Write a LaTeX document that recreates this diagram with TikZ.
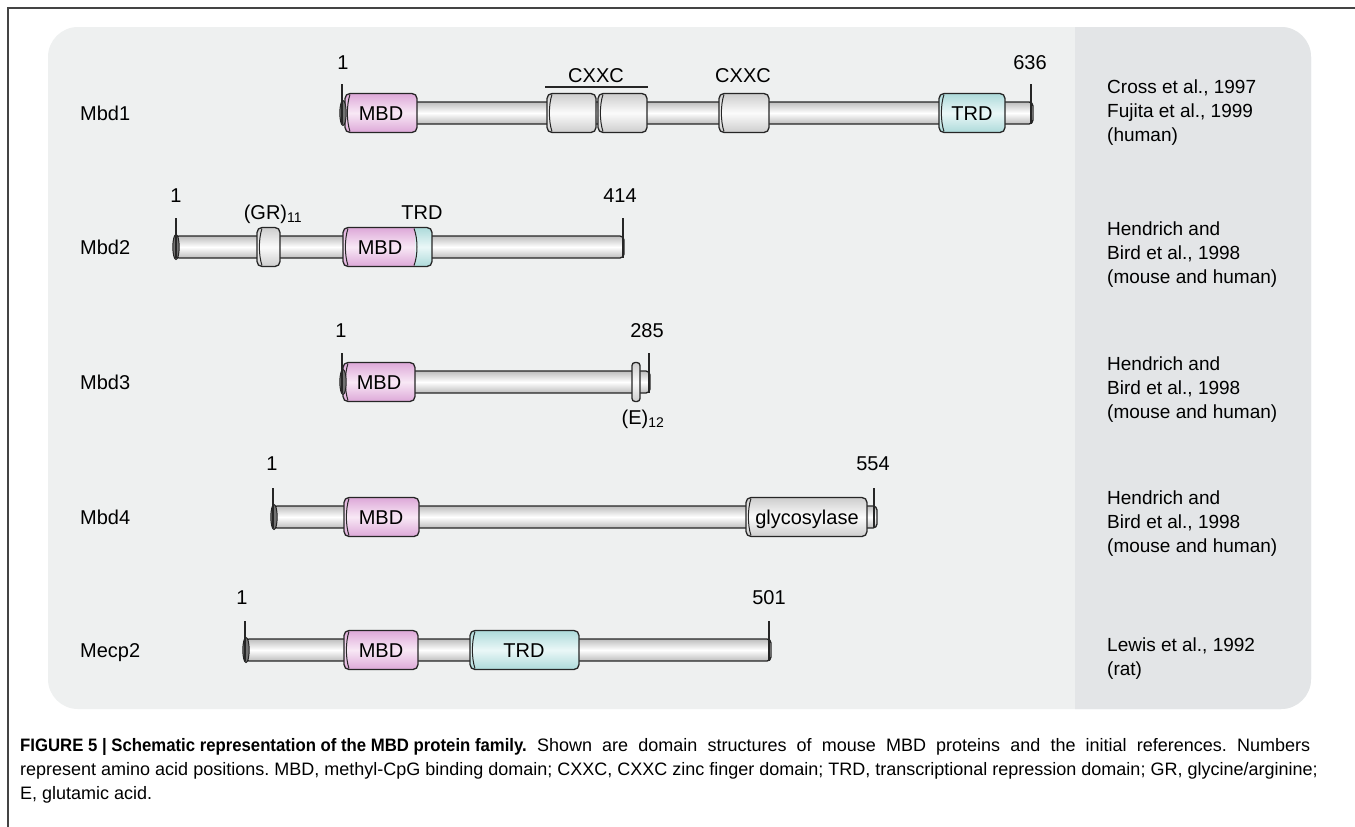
\documentclass[tikz,border=0pt]{standalone}
\usepackage{fontspec}
\setmainfont{Liberation Sans}
\frenchspacing
\definecolor{panel}{HTML}{EEF0F0}
\definecolor{refcol}{HTML}{E3E5E7}
\definecolor{pinkD}{HTML}{DDA8D8}
\definecolor{pinkL}{HTML}{F8E8F5}
\definecolor{cyanD}{HTML}{ADDADA}
\definecolor{cyanL}{HTML}{EAF7F7}
\definecolor{grayD}{HTML}{CDCDCD}
\definecolor{grayL}{HTML}{FBFBFB}
\definecolor{rodD}{HTML}{BDBDBD}
\definecolor{framecol}{HTML}{444444}
\tikzset{
  outl/.style={draw=black!85, line width=1.3pt},
  txt/.style={inner sep=0pt, anchor=base, font=\fontsize{20}{24}\selectfont},
  ltxt/.style={txt, anchor=base west},
  reftxt/.style={inner sep=0pt, anchor=west, align=left, font=\fontsize{19}{24}\selectfont},
  captxt/.style={inner sep=0pt, anchor=base west, font=\fontsize{18}{24}\selectfont},
  tickline/.style={draw=black!85, line width=1.5pt},
  pinkfill/.style={top color=pinkD, bottom color=pinkD, middle color=pinkL},
  cyanfill/.style={top color=cyanD, bottom color=cyanD, middle color=cyanL},
  grayfill/.style={top color=grayD, bottom color=grayD, middle color=grayL},
  rodfill/.style={top color=rodD, bottom color=rodD, middle color=white}
}
% #1 y, #2 x1, #3 x2
\newcommand\protrod[3]{%
  \shade[rodfill, rounded corners=4pt] (#2,#1-11) rectangle (#3,#1+11);
  \draw[outl, rounded corners=4pt] (#2,#1-11) rectangle (#3,#1+11);
}
% #1 y, #2 x1, #3 x2, #4 fill style
\newcommand\protdom[4]{%
  \shade[#4, rounded corners=5pt] (#2,#1-19.5) rectangle (#3,#1+19.5);
  \draw[outl, rounded corners=5pt] (#2,#1-19.5) rectangle (#3,#1+19.5);
  \draw[outl, line width=1pt] (#2+5,#1-18.5) .. controls (#2+1.5,#1-8) and (#2+1.5,#1+8) .. (#2+5,#1+18.5);
}
\newcommand\protcap[2]{%
  \filldraw[fill=black!55, draw=black!85, line width=1pt] (#2,#1) ellipse [x radius=3.2pt, y radius=12.5pt];
}
\newcommand\prottick[2]{%
  \draw[tickline] (#2,#1-29) -- (#2,#1+11);
}
\begin{document}
\begin{tikzpicture}[x=1pt, y=-1pt]
\useasboundingbox (0,0) rectangle (1355,827);
\fill[white] (0,0) rectangle (1355,827);
% frame
\draw[framecol, line width=1.5pt] (8,830) -- (8,8) -- (1358,8);
% panel
\fill[panel, rounded corners=30pt] (48,27) rectangle (1311,709);
\begin{scope}
  \clip[rounded corners=30pt] (48,27) rectangle (1311,709);
  \fill[refcol] (1075,0) rectangle (1400,800);
\end{scope}

% ---------- Mbd1 (y=113)
\node[ltxt] (n1) at (80,120) {Mbd1};
\protrod{113}{342}{1033}
\protdom{113}{345}{417}{pinkfill}
\protdom{113}{547}{596}{grayfill}
\protdom{113}{598}{647}{grayfill}
\protdom{113}{719}{769}{grayfill}
\protdom{113}{939}{1005}{cyanfill}
\protcap{113}{343}
\prottick{113}{342}
\prottick{113}{1031}
\node[txt] (m1mbd) at (381,120) {MBD};
\node[txt] (m1trd) at (972,120) {TRD};
\node[txt] (m1c1) at (596,82) {CXXC};
\node[txt] (m1c2) at (743,82) {CXXC};
\draw[outl] (545,87) -- (648,87);
\node[txt] (m1s) at (343,69) {1};
\node[txt] (m1e) at (1030,69) {636};
\node[reftxt] (r1) at (1107,113) {Cross et al., 1997\\Fujita et al., 1999\\(human)};

% ---------- Mbd2 (y=247)
\node[ltxt] (n2) at (80,254) {Mbd2};
\protrod{247}{175}{624}
\protdom{247}{257}{280}{grayfill}
\shade[pinkfill, rounded corners=5pt] (343,227.5) rectangle (432,266.5);
\begin{scope}
  \clip (415,200) rectangle (440,290);
  \shade[cyanfill, rounded corners=5pt] (343,227.5) rectangle (432,266.5);
\end{scope}
\draw[outl, rounded corners=5pt] (343,227.5) rectangle (432,266.5);
\draw[outl, line width=1pt] (348,228.5) .. controls (344.5,239) and (344.5,255) .. (348,265.5);
\draw[outl, line width=1pt] (414,228.5) .. controls (418,239) and (418,255) .. (414,265.5);
\protcap{247}{176}
\prottick{247}{176}
\prottick{247}{623}
\node[txt] (m2mbd) at (380,254) {MBD};
\node[txt] (m2trd) at (422,219) {TRD};
\node[txt] (m2gr) at (273,219) {(GR)\textsubscript{11}};
\node[txt] (m2s) at (176,202) {1};
\node[txt] (m2e) at (620,202) {414};
\node[reftxt] (r2) at (1107,255) {Hendrich and\\Bird et al., 1998\\(mouse and human)};

% ---------- Mbd3 (y=382)
\node[ltxt] (n3) at (80,389) {Mbd3};
\protrod{382}{342}{650}
\protdom{382}{343}{415}{pinkfill}
\shade[grayfill, rounded corners=3pt] (632,362.5) rectangle (640,401.5);
\draw[outl, rounded corners=3pt] (632,362.5) rectangle (640,401.5);
\protcap{382}{343}
\prottick{382}{342}
\prottick{382}{649}
\node[txt] (m3mbd) at (379,389) {MBD};
\node[txt] (m3s) at (341,337) {1};
\node[txt] (m3e) at (647,337) {285};
\node[txt] (m3el) at (643,424) {(E)\textsubscript{12}};
\node[reftxt] (r3) at (1107,390) {Hendrich and\\Bird et al., 1998\\(mouse and human)};

% ---------- Mbd4 (y=517)
\node[ltxt] (n4) at (80,524) {Mbd4};
\protrod{517}{273}{877}
\protdom{517}{344}{419}{pinkfill}
\protdom{517}{746}{867}{grayfill}
\protcap{517}{274}
\prottick{517}{273}
\prottick{517}{874}
\node[txt] (m4mbd) at (381,524) {MBD};
\node[txt] (m4gly) at (807,524) {glycosylase};
\node[txt] (m4s) at (272,470) {1};
\node[txt] (m4e) at (873,470) {554};
\node[reftxt] (r4) at (1107,524) {Hendrich and\\Bird et al., 1998\\(mouse and human)};

% ---------- Mecp2 (y=650)
\node[ltxt] (n5) at (80,657) {Mecp2};
\protrod{650}{245}{771}
\protdom{650}{344}{418}{pinkfill}
\protdom{650}{470}{579}{cyanfill}
\protcap{650}{246}
\prottick{650}{245}
\prottick{650}{769}
\node[txt] (m5mbd) at (381,657) {MBD};
\node[txt] (m5trd) at (524,657) {TRD};
\node[txt] (m5s) at (242,604) {1};
\node[txt] (m5e) at (769,604) {501};
\node[reftxt] (r5) at (1107,659) {Lewis et al., 1992\\(rat)};

% ---------- caption
\node[captxt] (c1) at (20,751) {\hbox to 1290pt{\scalebox{0.93}[1]{\textbf{FIGURE 5 | Schematic representation of the MBD protein family.}} Shown are domain structures of mouse MBD proteins and the initial references. Numbers}};
\node[captxt] (c2) at (20,775) {represent amino acid positions. MBD, methyl-CpG binding domain; CXXC, CXXC zinc finger domain; TRD, transcriptional repression domain; GR, glycine/arginine;};
\node[captxt] (c3) at (20,799) {E, glutamic acid.};
\end{tikzpicture}
\end{document}
